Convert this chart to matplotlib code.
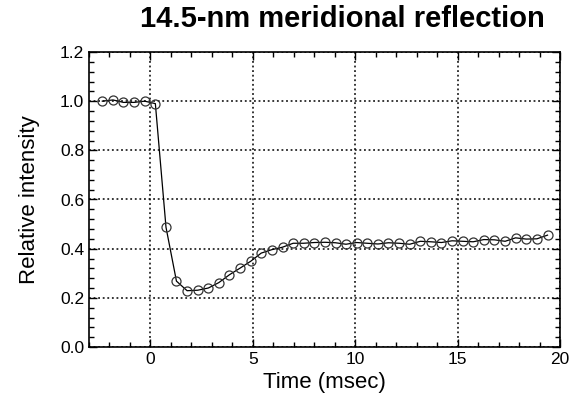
import matplotlib
matplotlib.use("Agg")
import matplotlib.pyplot as plt
from matplotlib.ticker import MultipleLocator

plt.rcParams['font.family'] = ['Liberation Sans', 'DejaVu Sans']

time_ms = [-2.35, -1.83, -1.32, -0.80, -0.28, 0.24, 0.76, 1.27, 1.79, 2.31,
           2.83, 3.34, 3.86, 4.38, 4.90, 5.41, 5.93, 6.45, 6.97, 7.48,
           8.00, 8.52, 9.04, 9.55, 10.07, 10.59, 11.11, 11.62, 12.14, 12.66,
           13.18, 13.69, 14.21, 14.73, 15.25, 15.76, 16.28, 16.80, 17.32, 17.83,
           18.35, 18.87, 19.39]
intensity = [1.000, 1.005, 0.995, 0.995, 1.000, 0.990, 0.487, 0.268, 0.229, 0.231,
             0.240, 0.262, 0.294, 0.321, 0.349, 0.382, 0.396, 0.406, 0.422, 0.422,
             0.425, 0.426, 0.424, 0.418, 0.425, 0.422, 0.419, 0.424, 0.422, 0.418,
             0.430, 0.428, 0.425, 0.432, 0.430, 0.428, 0.437, 0.436, 0.430, 0.444,
             0.439, 0.440, 0.455]

title = "14.5-nm meridional reflection"
xlabel = "Time (msec)"
ylabel = "Relative intensity"

fig = plt.figure(figsize=(5.7, 3.96), dpi=100)
ax = fig.add_axes([89/570, 1-347/396, (560-89)/570, (347-52)/396])

ax.plot(time_ms, intensity, color='black', lw=0.9, marker='o', ms=6.5,
        mfc='none', mec='#333333', mew=0.9)

ax.set_xlim(-3, 20)
ax.set_ylim(0, 1.2)
ax.xaxis.set_major_locator(MultipleLocator(5))
ax.xaxis.set_minor_locator(MultipleLocator(1))
ax.yaxis.set_major_locator(MultipleLocator(0.2))
ax.yaxis.set_minor_locator(MultipleLocator(0.04))
ax.yaxis.set_major_formatter(matplotlib.ticker.FormatStrFormatter('%.1f'))

ax.tick_params(which='both', direction='in', top=True, right=True, labelsize=12.5)
ax.tick_params(which='major', length=6, width=1)
ax.tick_params(which='minor', length=3.5, width=1)
ax.grid(True, which='major', color='black', linestyle=(0, (1.2, 1.8)), lw=1.1)
for s in ax.spines.values():
    s.set_linewidth(1.2)

ax.set_xlabel(xlabel, fontsize=16, labelpad=4)
ax.set_ylabel(ylabel, fontsize=16, labelpad=14)
fig.text(342/570, 1-19/396, title, fontsize=21, fontweight='bold',
         ha='center', va='center')

fig.savefig('out.png', dpi=100)
